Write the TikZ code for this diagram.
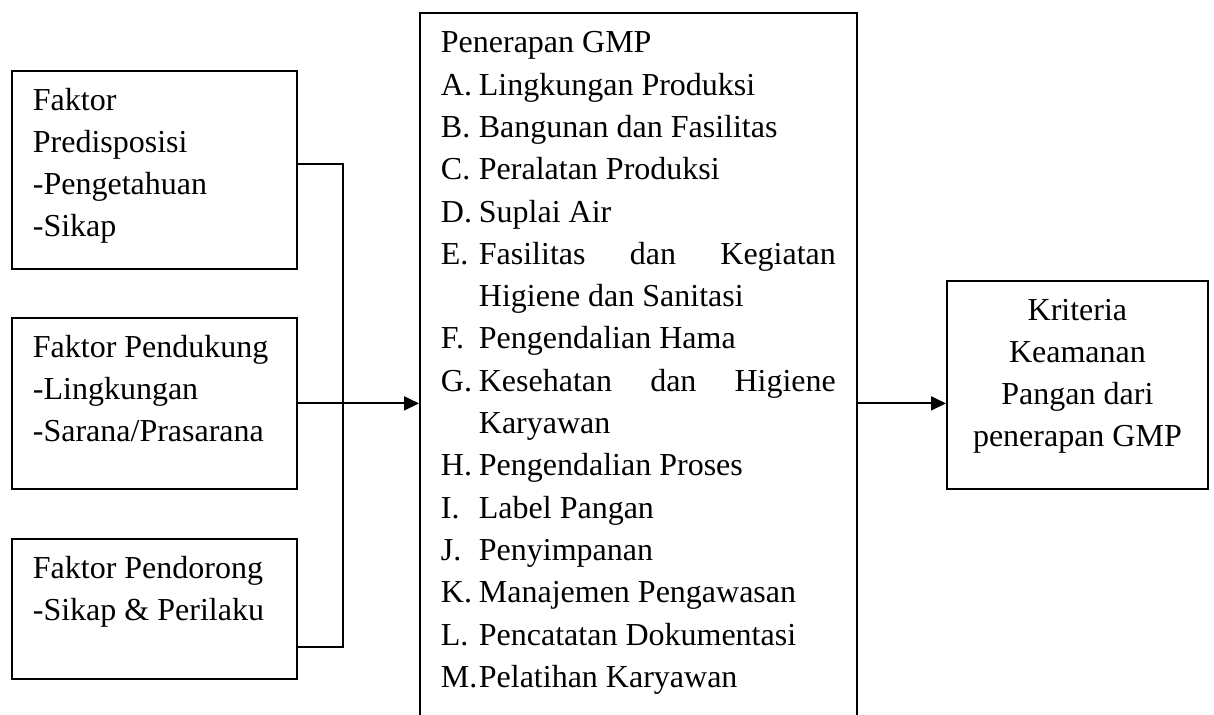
\documentclass[tikz,border=0pt]{standalone}
\usepackage{fontspec}
\setmainfont{Liberation Serif}
\usetikzlibrary{arrows.meta}

\tikzset{
    kotak/.style={draw, line width=0.9pt, anchor=north west,
        inner xsep=10.5pt, inner ysep=0pt,
        font=\fontsize{16pt}{21pt}\selectfont},
    garis/.style={line width=0.9pt},
    panah/.style={line width=0.9pt, -{Triangle[length=7.5pt,width=7pt]}}
}
% isi kotak: lebar, tinggi, teks (baris pertama 20pt dari atas)
\newcommand{\isikotak}[3]{\parbox[t][#2][t]{#1}{\rule{0pt}{20pt}#3}}
\newcommand{\butir}[2]{\par\hangindent=19pt\hangafter=1\noindent\makebox[19pt][l]{#1}#2}

\begin{document}
\begin{tikzpicture}[x=0.5pt,y=-0.5pt]
    \useasboundingbox (0,0) rectangle (1214,715);
    \clip (0,0) rectangle (1214,715);

    % faktor-faktor
    \node[kotak] (predisposisi) at (11,70)
        {\isikotak{121.5pt}{99pt}{Faktor\\Predisposisi\\-Pengetahuan\\-Sikap}};
    \node[kotak] (pendukung) at (11,317)
        {\isikotak{121.5pt}{85.5pt}{Faktor Pendukung\\-Lingkungan\\-Sarana/Prasarana}};
    \node[kotak] (pendorong) at (11,538)
        {\isikotak{121.5pt}{70pt}{Faktor Pendorong\\-Sikap \& Perilaku}};

    % penerapan GMP
    \node[kotak, font=\fontsize{16pt}{21.15pt}\selectfont] (gmp) at (419,12)
        {\isikotak{197.5pt}{364pt}{Penerapan GMP
            \butir{A.}{Lingkungan Produksi}
            \butir{B.}{Bangunan dan Fasilitas}
            \butir{C.}{Peralatan Produksi}
            \butir{D.}{Suplai Air}
            \butir{E.}{Fasilitas dan Kegiatan\linebreak Higiene dan Sanitasi}
            \butir{F.}{Pengendalian Hama}
            \butir{G.}{Kesehatan dan Higiene\linebreak Karyawan}
            \butir{H.}{Pengendalian Proses}
            \butir{I.}{Label Pangan}
            \butir{J.}{Penyimpanan}
            \butir{K.}{Manajemen Pengawasan}
            \butir{L.}{Pencatatan Dokumentasi}
            \butir{M.}{Pelatihan Karyawan}}};

    % hasil
    \node[kotak] (kriteria) at (946,280)
        {\isikotak{109.5pt}{104pt}{\centering Kriteria\\Keamanan\\Pangan dari\\penerapan GMP}};

    % garis penghubung
    \coordinate (atas) at (343,164);
    \coordinate (bawah) at (343,647);
    \draw[garis] (predisposisi.east |- atas) -- (atas) -- (bawah) -- (pendorong.east |- bawah);
    \draw[panah] (pendukung.east) -- (gmp.west |- pendukung.east);
    \draw[panah] (gmp.east |- pendukung.east) -- (kriteria.west |- pendukung.east);
\end{tikzpicture}
\end{document}
